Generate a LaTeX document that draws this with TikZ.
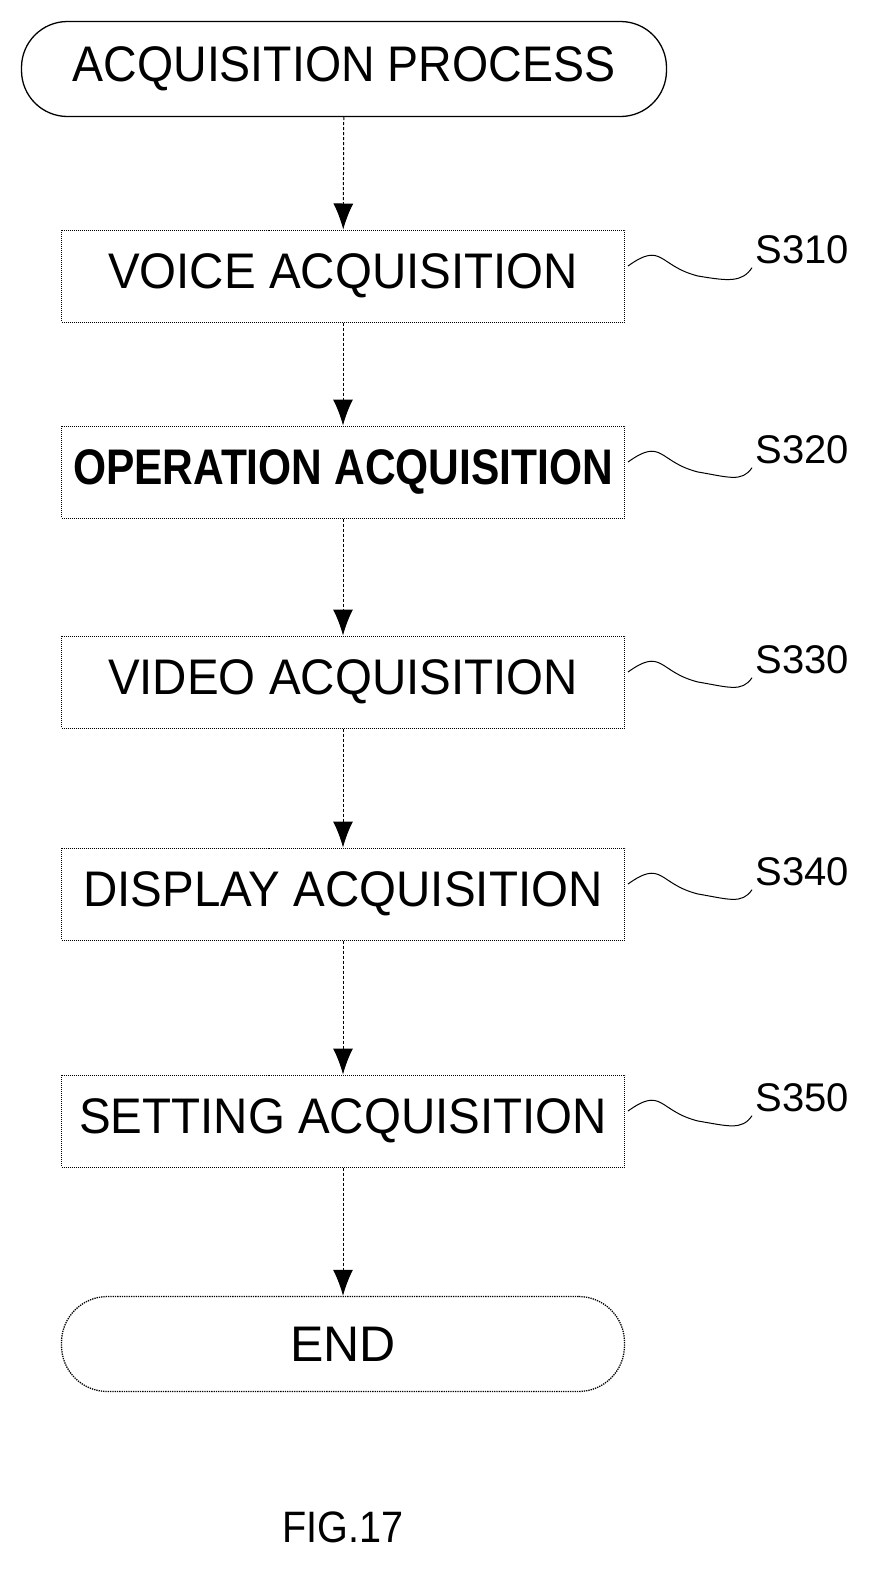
\documentclass[tikz,border=0pt]{standalone}
\usepackage{fontspec}
\setmainfont{Liberation Sans}
\usetikzlibrary{arrows.meta}
\begin{document}
\begin{tikzpicture}[x=1pt,y=-1pt,
  txt/.style={font=\fontsize{50}{56}\selectfont},
  stepbox/.style={draw,densely dotted,line width=1pt,minimum width=563pt,minimum height=92pt,inner sep=0pt,txt},
  term/.style={draw,line width=1.3pt,rounded corners=46pt,minimum height=95pt,inner sep=0pt,txt},
  arr/.style={densely dashed,line width=1pt,-{Latex[length=26pt,width=20pt]}},
  squig/.style={line width=1pt},
  lab/.style={font=\fontsize{40}{44}\selectfont,anchor=west}]
\useasboundingbox (0,0) rectangle (882,1577);
\node[term,minimum width=645pt] (st) at (344,69) {\scalebox{0.93}[1]{ACQUISITION PROCESS}};
\node[stepbox] (a) at (343,276) {\scalebox{0.95}[1]{VOICE ACQUISITION}};
\node[stepbox] (b) at (343,472) {\scalebox{0.85}[1]{\textbf{OPERATION ACQUISITION}}};
\node[stepbox] (c) at (343,682) {\scalebox{0.95}[1]{VIDEO ACQUISITION}};
\node[stepbox] (d) at (343,894) {\scalebox{0.95}[1]{DISPLAY ACQUISITION}};
\node[stepbox] (e) at (343,1121) {\scalebox{0.95}[1]{SETTING ACQUISITION}};
\node[term,densely dotted,minimum width=563pt] (en) at (343,1344) {END};
\node[font=\fontsize{44}{48}\selectfont] (fig) at (343,1527) {\scalebox{0.9}[1]{FIG.17}};
\draw[arr] (st) -- (a);
\draw[arr] (a) -- (b);
\draw[arr] (b) -- (c);
\draw[arr] (c) -- (d);
\draw[arr] (d) -- (e);
\draw[arr] (e) -- (en);
\foreach \n/\s/\y in {a/S310/250,b/S320/450,c/S330/660,d/S340/872,e/S350/1098}{
  \node[lab] (l\n) at (752,\y) {\s};
  \draw[squig] (\n.east) ++(3,-10) .. controls +(35,-25) and +(-40,-10) .. +(70,10) .. controls +(30,5) and +(-10,15) .. (l\n.south west);
}
\end{tikzpicture}
\end{document}
